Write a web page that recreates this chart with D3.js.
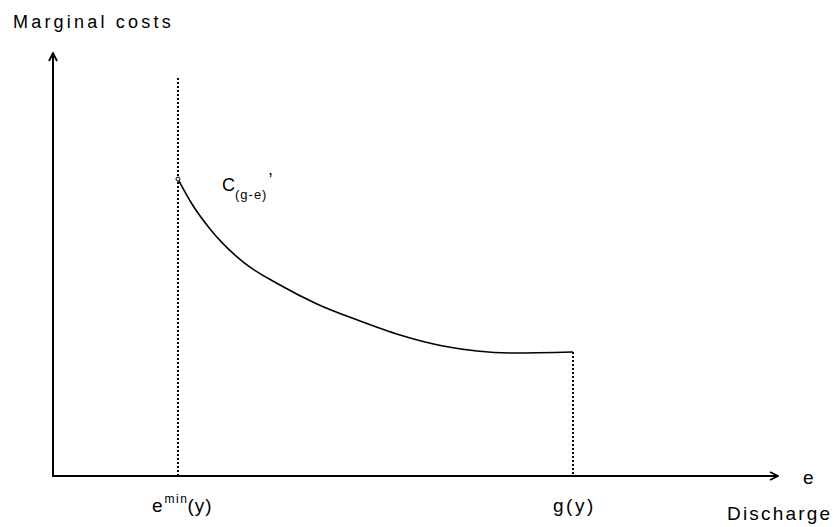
<!DOCTYPE html>
<html>
<head>
    <title>Marginal costs of discharge</title>
    <script src="https://d3js.org/d3.v7.min.js"></script>
    <style>
        body { margin: 0; background: #fff; }
        text { font-family: "Liberation Sans", Arial, sans-serif; fill: #000; }
    </style>
</head>
<body>
    <svg id="chart" width="834" height="527"></svg>

    <script>
      // curve c'(g-e): discharge e (0..100) vs marginal cost (0..100)
      var curveE    = [17.24, 19.17, 21.66, 26.21, 31.31, 36.41, 42.34, 47.86, 53.79, 58.48, 63.45, 71.72];
      var curveCost = [70.2, 64.3, 58.4, 50.6, 45.15, 40.66, 36.64, 33.33, 30.73, 29.55, 29.08, 29.31];

      var eMin = 17.24;    // e^min(y)
      var gY = 71.72;      // g(y)
      var eMinTop = 94;    // top of dotted guide at e^min

      const svg = d3.select("#chart");

      var x = d3.scaleLinear().domain([0, 100]).range([53, 778]);
      var y = d3.scaleLinear().domain([0, 100]).range([476, 53]);

      // arrow heads
      var defs = svg.append("defs");
      defs.append("marker")
          .attr("id", "arrow")
          .attr("viewBox", "0 0 10 10")
          .attr("refX", 9).attr("refY", 5)
          .attr("markerWidth", 10).attr("markerHeight", 10)
          .attr("markerUnits", "userSpaceOnUse")
          .attr("orient", "auto")
          .append("path")
          .attr("d", "M1,1 L9,5 L1,9")
          .attr("fill", "none")
          .attr("stroke", "black")
          .attr("stroke-width", 1.8);

      // axes
      svg.append("line")
          .attr("x1", x(0)).attr("y1", y(0))
          .attr("x2", x(0)).attr("y2", y(100))
          .attr("stroke", "black").attr("stroke-width", 2)
          .attr("marker-end", "url(#arrow)");

      svg.append("line")
          .attr("x1", x(0) - 1).attr("y1", y(0))
          .attr("x2", x(100)).attr("y2", y(0))
          .attr("stroke", "black").attr("stroke-width", 2)
          .attr("marker-end", "url(#arrow)");

      // dotted guides
      svg.append("line")
          .attr("x1", Math.round(x(eMin))).attr("y1", y(eMinTop))
          .attr("x2", Math.round(x(eMin))).attr("y2", y(0))
          .attr("stroke", "black").attr("stroke-width", 2)
          .attr("stroke-dasharray", "2,2")
          .attr("shape-rendering", "crispEdges");

      svg.append("line")
          .attr("x1", Math.round(x(gY))).attr("y1", y(curveCost[curveCost.length - 1]))
          .attr("x2", Math.round(x(gY))).attr("y2", y(0))
          .attr("stroke", "black").attr("stroke-width", 2)
          .attr("stroke-dasharray", "2,2")
          .attr("shape-rendering", "crispEdges");

      // the curve
      var pts = curveE.map((e, i) => [e, curveCost[i]]);
      var line = d3.line()
          .x(d => x(d[0]))
          .y(d => y(d[1]))
          .curve(d3.curveMonotoneX);

      svg.append("path")
          .datum(pts)
          .attr("d", line)
          .attr("fill", "none")
          .attr("stroke", "black")
          .attr("stroke-width", 1.6);

      svg.append("circle")
          .attr("cx", x(curveE[0])).attr("cy", y(curveCost[0]))
          .attr("r", 2)
          .attr("fill", "white")
          .attr("stroke", "black")
          .attr("stroke-width", 1);

      // labels
      svg.append("text")
          .attr("x", 13).attr("y", 28)
          .attr("font-size", 18)
          .attr("letter-spacing", 3.2)
          .text("Marginal costs");

      var cl = svg.append("text")
          .attr("x", 222).attr("y", 191)
          .attr("font-size", 18);
      cl.append("tspan").text("C");
      cl.append("tspan").attr("font-size", 13).attr("dy", 8).attr("dx", 0).attr("letter-spacing", 1).text("(g-e)");
      cl.append("tspan").attr("dy", -13).attr("dx", 1).text("’");

      var el = svg.append("text")
          .attr("x", 152).attr("y", 512)
          .attr("font-size", 19);
      el.append("tspan").text("e");
      el.append("tspan").attr("font-size", 12).attr("dy", -9).attr("dx", 2).attr("letter-spacing", 1.5).text("min");
      el.append("tspan").attr("dy", 9).attr("dx", -1).attr("letter-spacing", 1).text("(y)");

      svg.append("text")
          .attr("x", 553).attr("y", 512)
          .attr("font-size", 19)
          .attr("letter-spacing", 2.5)
          .text("g(y)");

      svg.append("text")
          .attr("x", 803).attr("y", 484)
          .attr("font-size", 19)
          .text("e");

      svg.append("text")
          .attr("x", 727).attr("y", 520)
          .attr("font-size", 19)
          .attr("letter-spacing", 2.2)
          .text("Discharge");
    </script>
</body>
</html>
